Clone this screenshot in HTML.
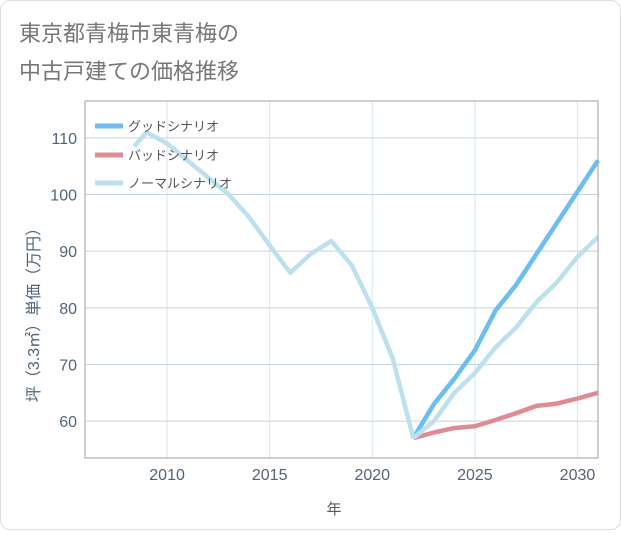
<!DOCTYPE html>
<html><head><meta charset="utf-8"><style>
body{margin:0;background:#fff;font-family:"Liberation Sans","Noto Sans CJK JP",sans-serif}
#card{position:absolute;left:0;top:0;width:619px;height:528px;border:1px solid #ddd;border-radius:10px;background:#fff}
</style></head><body>
<div id="card">
<svg id="chart" width="621" height="530">
<text x="18" y="40" font-size="22" fill="#777">東京都青梅市東青梅の</text>
<text x="18" y="78" font-size="22" fill="#777">中古戸建ての価格推移</text>
<g id="grid"></g><g id="series"></g><g id="axes"></g>
<g id="legend">
<line x1="94" y1="125" x2="122" y2="125" stroke="#6bbdf2" stroke-width="5"/>
<text x="127" y="130" font-size="13" fill="#555">グッドシナリオ</text>
<line x1="94" y1="154" x2="122" y2="154" stroke="#de8b93" stroke-width="5"/>
<text x="127" y="159" font-size="13" fill="#555">バッドシナリオ</text>
<line x1="94" y1="182" x2="122" y2="182" stroke="#bde0ef" stroke-width="5"/>
<text x="127" y="187" font-size="13" fill="#555">ノーマルシナリオ</text>
</g>
<text x="333" y="513" font-size="15" fill="#555c66" text-anchor="middle">年</text>
<text transform="translate(38,310) rotate(-90)" font-size="16" fill="#506478" text-anchor="middle">坪（3.3㎡）単価（万円）</text>
</svg></div>
<script>
const histYears=[2008.4,2009,2010,2011,2012,2013,2014,2015,2016,2017,2018,2019,2020,2021,2022];
const histValues=[108.5,111,109,106,103,100,96,91,86.2,89.5,91.8,87.5,80,71,57];
const futYears=[2022,2023,2024,2025,2026,2027,2028,2029,2030,2031];
const goodValues=[57,63,67.5,72.5,79.5,84,89.5,95,100.5,106];
const badValues=[57,58,58.8,59.1,60.2,61.4,62.7,63.1,64,65];
const normalValues=[57,60,65,68.5,73,76.5,81,84.5,89,92.5];
const xTicks=[2010,2015,2020,2025,2030];
const yTicks=[60,70,80,90,100,110];
const L=84,R=597,T=100,B=457,x0=2006,x1=2031,y0=53.5,y1=116.5;
const X=v=>L+(v-x0)/(x1-x0)*(R-L), Y=v=>B-(v-y0)/(y1-y0)*(B-T);
const NS="http://www.w3.org/2000/svg";
function mk(p,t,a){const e=document.createElementNS(NS,t);for(const k in a)e.setAttribute(k,a[k]);document.getElementById(p).appendChild(e);return e;}
xTicks.forEach(t=>{const l=mk('grid','line',{x1:X(t),x2:X(t),y1:T,y2:B,stroke:'#d4e6f3','stroke-width':1});


const tx=mk('axes','text',{x:X(t),y:B+22,'font-size':16,fill:'#506478','text-anchor':'middle'});tx.textContent=t;

});
yTicks.forEach(t=>{const l=mk('grid','line',{x1:L,x2:R,y1:Y(t),y2:Y(t),stroke:'#c5d3dd','stroke-width':1});


const tx=mk('axes','text',{x:L-8,y:Y(t)+6,'font-size':16,fill:'#506478','text-anchor':'end'});tx.textContent=t;

});
const fr=mk('axes','rect',{x:L,y:T,width:R-L,height:B-T,fill:'none',stroke:'#a0a0a0','stroke-width':1});


function line(xs,ys,c,n){const d=xs.map((v,i)=>(i?'L':'M')+X(v)+','+Y(ys[i])).join('');
const p=mk('series','path',{d:d,fill:'none',stroke:c,'stroke-width':4.5,'stroke-linejoin':'round'});

}
line(futYears,goodValues,'#6bbdf2','good-scenario-line');
line(futYears,badValues,'#de8b93','bad-scenario-line');
line(futYears,normalValues,'#bde0ef','normal-scenario-line');
line(histYears,histValues,'#bde0ef','historical-line');
</script></body></html>
